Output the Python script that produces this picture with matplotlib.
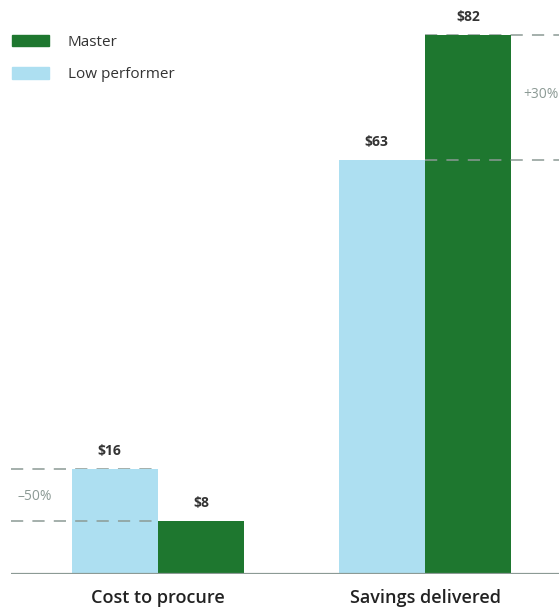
import matplotlib
matplotlib.use("Agg")
import matplotlib.pyplot as plt
from matplotlib.patches import Patch
import numpy as np

# data
categories = ["Cost to procure", "Savings delivered"]
low_performer = [16, 63]
master = [8, 82]
change_labels = ["\u201350%", "+30%"]

# style
green = "#1e772f"
light_blue = "#addff1"
grey = "#8c9a95"
text_dark = "#333333"

plt.rcParams["font.family"] = ["Open Sans", "DejaVu Sans"]

fig = plt.figure(figsize=(5.59, 6.07), dpi=100)
ax = fig.add_axes([11 / 559, 33 / 607, 548 / 559, 574 / 607])

x = np.arange(len(categories))
w = 0.322
ax.bar(x - w / 2, low_performer, w, color=light_blue, zorder=2)
ax.bar(x + w / 2, master, w, color=green, zorder=2)

ax.set_xlim(-0.551, 1.502)
ax.set_ylim(0, 87.3)

# value labels
for i in range(len(categories)):
    ax.text(x[i] - w / 2 - 0.02, low_performer[i] + 1.7, f"${low_performer[i]}",
            ha="center", va="bottom", fontsize=10, fontweight="bold", color=text_dark)
    ax.text(x[i] + w / 2, master[i] + 1.7, f"${master[i]}",
            ha="center", va="bottom", fontsize=10, fontweight="bold", color=text_dark)

# dashed comparison lines
dash = dict(color=grey, linewidth=1.1, dashes=(8, 6))
ax.plot([-0.551, 0], [low_performer[0]] * 2, zorder=1, **dash)
ax.plot([-0.551, 0], [master[0]] * 2, zorder=3, **dash)
ax.plot([1, 1.502], [master[1]] * 2, zorder=1, **dash)
ax.plot([1, 1.502], [low_performer[1]] * 2, zorder=3, **dash)
ax.text(-0.462, (low_performer[0] + master[0]) / 2 - 0.2, change_labels[0],
        ha="center", va="center", fontsize=10, color=grey)
ax.text(1.435, (low_performer[1] + master[1]) / 2 + 0.5, change_labels[1],
        ha="center", va="center", fontsize=10, color=grey, clip_on=False)

# baseline
ax.axhline(0, color=grey, linewidth=1.6, zorder=4)

for s in ax.spines.values():
    s.set_visible(False)
ax.set_yticks([])
ax.set_xticks(x)
ax.set_xticklabels(categories, fontsize=13, color="#222222", fontweight="semibold")
ax.tick_params(axis="x", length=0, pad=11)

handles = [Patch(color=green, label="Master"), Patch(color=light_blue, label="Low performer")]
fig.legend(handles=handles, loc="upper left", bbox_to_anchor=(12 / 559, 1 - 35 / 607),
           frameon=False, fontsize=11, handlelength=2.4, handleheight=0.78,
           handletextpad=1.25, labelspacing=1.12, borderpad=0, borderaxespad=0,
           labelcolor="#333333")

fig.savefig("out.png", dpi=100)
